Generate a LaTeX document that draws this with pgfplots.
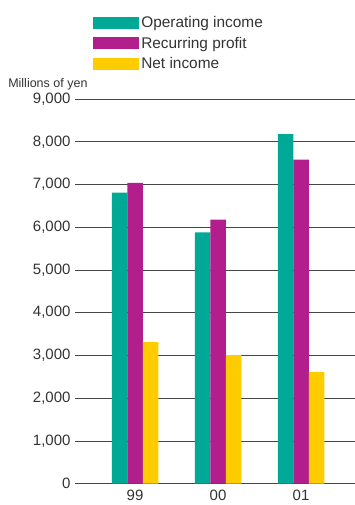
\documentclass[border=0pt]{standalone}
\usepackage{pgfplots}
\pgfplotsset{compat=1.18}
\usepackage{fontspec}
\setmainfont{Liberation Sans}

\definecolor{opteal}{RGB}{0,168,150}
\definecolor{recmag}{RGB}{178,30,140}
\definecolor{netyel}{RGB}{255,204,0}
\definecolor{txt}{RGB}{51,51,51}
\definecolor{gridc}{RGB}{70,70,70}

\begin{document}
\begin{tikzpicture}
\begin{axis}[
  at={(0,0)}, anchor=south west,
  scale only axis,
  width=280bp, height=384.7bp,
  ybar=0pt, bar width=15.5bp,
  xmin=-0.723, xmax=2.65,
  ymin=0, ymax=9000,
  xtick=data, xticklabels={99,00,01},
  ytick={0,1000,...,9000},
  major tick length=0pt,
  axis line style={draw=none},
  ymajorgrids,
  grid style={gridc, line width=0.8bp},
  clip=false,
  font=\fontsize{15bp}{17bp}\selectfont,
  tick label style={txt},
  /pgf/number format/assume math mode=true,
  /pgf/number format/1000 sep={,},
  yticklabel style={anchor=east, xshift=-1bp},
  xticklabel style={yshift=-3bp},
  legend style={at={(axis description cs:0.054,1.226)}, anchor=north west,
    draw=none, fill=none, text=txt, row sep=4bp,
    font=\fontsize{15.4bp}{17bp}\selectfont,
    /tikz/every even column/.append style={column sep=0pt}},
  legend image code/.code={\fill[#1,draw=none] (0bp,-6bp) rectangle (46bp,6bp);},
  legend cell align=left,
]
\addplot[fill=opteal, draw=none] coordinates {(0,6810) (1,5880) (2,8180)};
\addplot[fill=recmag, draw=none] coordinates {(0,7040) (1,6180) (2,7580)};
\addplot[fill=netyel, draw=none] coordinates {(0,3310) (1,3010) (2,2610)};
\legend{Operating income, Recurring profit, Net income}
\node[anchor=base west, text=txt, font=\fontsize{12.5bp}{14bp}\selectfont, inner sep=0pt]
  at (axis description cs:-0.239,1.031) {Millions of yen};
\end{axis}
\pgfresetboundingbox
\path (-75bp,-21.3bp) rectangle (280bp,483.7bp);
\end{tikzpicture}
\end{document}
